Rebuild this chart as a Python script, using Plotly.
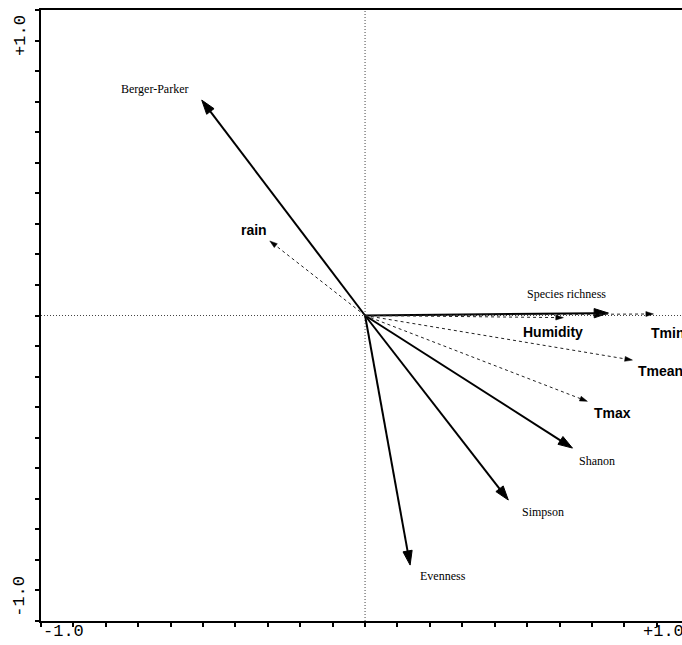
import plotly.graph_objects as go

# Species (response variables) - solid arrows
species_names = ["Berger-Parker", "Species richness", "Shanon", "Simpson", "Evenness"]
species_x = [-0.504, 0.751, 0.640, 0.442, 0.139]
species_y = [0.705, 0.008, -0.434, -0.604, -0.817]

# Environmental variables - dashed arrows
env_names = ["rain", "Humidity", "Tmin", "Tmean", "Tmax"]
env_x = [-0.294, 0.612, 0.890, 0.825, 0.686]
env_y = [0.244, -0.007, 0.005, -0.146, -0.281]

# Axis tick labels
xtick_labels = ["-1.0", "+1.0"]
ytick_labels = ["-1.0", "+1.0"]

# label offsets (pixels) : (xshift, yshift, xanchor)
species_offsets = [(-47, 11, "center"), (-42, 19, "center"), (25, -13, "center"),
                   (35, -12, "center"), (33, -11, "center")]
env_offsets = [(-16, 11, "center"), (-10, -14, "center"), (-4, -19, "left"),
               (4, -11, "left"), (25, -12, "center")]

fig = go.Figure()

for name, x, y in zip(species_names, species_x, species_y):
    fig.add_trace(go.Scatter(
        x=[0, x], y=[0, y], mode="lines+markers",
        line=dict(color="black", width=2),
        marker=dict(symbol="arrow", size=[0, 15], color="black", opacity=1,
                    angleref="previous", line=dict(width=1, color="black")),
        hoverinfo="skip", showlegend=False))

for name, x, y in zip(env_names, env_x, env_y):
    fig.add_trace(go.Scatter(
        x=[0, x], y=[0, y], mode="lines+markers",
        line=dict(color="#222", width=1, dash="3px,3px"),
        marker=dict(symbol="arrow", size=[0, 8], color="black", opacity=1,
                    angleref="previous", line=dict(width=0.5, color="black")),
        hoverinfo="skip", showlegend=False))

annotations = []
for name, x, y, (dx, dy, anc) in zip(species_names, species_x, species_y, species_offsets):
    annotations.append(dict(x=x, y=y, xref="x", yref="y", text=name, showarrow=False,
                            xshift=dx, yshift=dy, xanchor=anc,
                            font=dict(family="Liberation Serif", size=12, color="black")))
for name, x, y, (dx, dy, anc) in zip(env_names, env_x, env_y, env_offsets):
    annotations.append(dict(x=x, y=y, xref="x", yref="y", text="<b>%s</b>" % name, showarrow=False,
                            xshift=dx, yshift=dy, xanchor=anc,
                            font=dict(family="Liberation Sans", size=14, color="black")))

mono = dict(family="Liberation Mono", size=17, color="black")
annotations += [
    dict(x=0.0, y=-0.018, xref="paper", yref="paper", text=xtick_labels[0], showarrow=False,
         xanchor="left", yanchor="middle", font=mono),
    dict(x=1.007, y=-0.018, xref="paper", yref="paper", text=xtick_labels[1], showarrow=False,
         xanchor="right", yanchor="middle", font=mono),
    dict(x=-0.033, y=0.041, xref="paper", yref="paper", text=ytick_labels[0], showarrow=False,
         xanchor="center", yanchor="middle", textangle=-90, font=mono),
    dict(x=-0.033, y=0.959, xref="paper", yref="paper", text=ytick_labels[1], showarrow=False,
         xanchor="center", yanchor="middle", textangle=-90, font=mono),
]

shapes = [
    dict(type="line", xref="x", yref="paper", x0=0, x1=0, y0=0, y1=1,
         line=dict(color="#444", width=1, dash="1px,2px"), layer="below"),
    dict(type="line", xref="paper", yref="y", x0=0, x1=1, y0=0, y1=0,
         line=dict(color="#444", width=1, dash="1px,2px"), layer="below"),
]

fig.update_layout(
    width=682, height=645,
    margin=dict(l=41, r=0, t=10, b=24),
    paper_bgcolor="white", plot_bgcolor="white",
    annotations=annotations, shapes=shapes,
    xaxis=dict(range=[-1.0, 0.978], showline=True, linecolor="black", linewidth=2,
               mirror=True, ticks="outside", ticklen=4, tickwidth=2, tickcolor="black",
               tick0=-1.0, dtick=0.1, showticklabels=False, showgrid=False, zeroline=False),
    yaxis=dict(range=[-1.0, 1.0], showline=True, linecolor="black", linewidth=2,
               ticks="outside", ticklen=4, tickwidth=2, tickcolor="black",
               tick0=-1.0, dtick=0.1, showticklabels=False, showgrid=False, zeroline=False),
)

fig.write_html("out.html", config={"displayModeBar": False},
               post_script="document.body.style.margin='0';document.body.style.overflow='hidden';")
